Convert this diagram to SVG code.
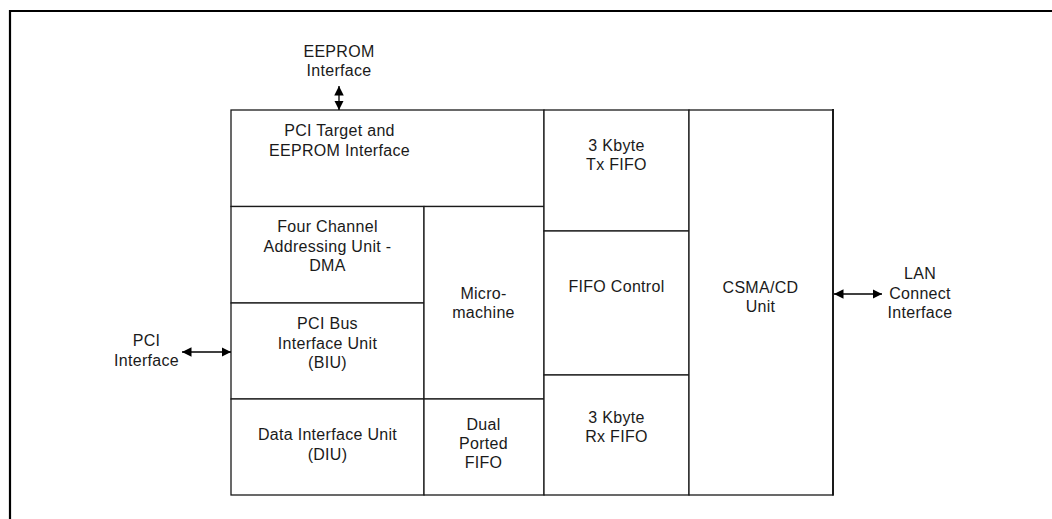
<svg xmlns="http://www.w3.org/2000/svg" width="1052" height="519" viewBox="0 0 1052 519">
<style>
.box{fill:#fff;stroke:#1a1a1a;stroke-width:1.3}
.t{font-family:"Liberation Sans",Arial,sans-serif;font-size:16px;letter-spacing:0.3px;fill:#1a1a1a;text-anchor:middle}
.c{stroke:#000;stroke-width:1.3;fill:none;marker-start:url(#ah);marker-end:url(#ah)}
.frame{stroke:#000;stroke-width:2.2;fill:none}
</style>
<defs>
<marker id="ah" viewBox="0 0 10 10" refX="10" refY="5" markerUnits="userSpaceOnUse" markerWidth="9.5" markerHeight="9.5" orient="auto-start-reverse">
<path d="M0,0 L10,5 L0,10 z" fill="#000"/>
</marker>
</defs>
<rect width="1052" height="519" fill="#fff"/>
<path class="frame" d="M10,519 V11 H1052"/>

<g id="pci-target"><rect class="box" x="231" y="110" width="313" height="96.5"/>
<text class="t" x="339.5" y="136">PCI Target and</text><text class="t" x="339.5" y="155.5">EEPROM Interface</text></g>
<g id="dma"><rect class="box" x="231" y="206.5" width="193" height="96.5"/>
<text class="t" x="327.5" y="231.5">Four Channel</text><text class="t" x="327.5" y="251.5">Addressing Unit -</text><text class="t" x="327.5" y="271">DMA</text></g>
<g id="biu"><rect class="box" x="231" y="303" width="193" height="96"/>
<text class="t" x="327.5" y="329">PCI Bus</text><text class="t" x="327.5" y="348.5">Interface Unit</text><text class="t" x="327.5" y="368">(BIU)</text></g>
<g id="diu"><rect class="box" x="231" y="399" width="193" height="96"/>
<text class="t" x="327.5" y="440">Data Interface Unit</text><text class="t" x="327.5" y="460">(DIU)</text></g>
<g id="micromachine"><rect class="box" x="424" y="206.5" width="120" height="192.5"/>
<text class="t" x="483.5" y="298.5">Micro-</text><text class="t" x="483.5" y="318">machine</text></g>
<g id="dual-fifo"><rect class="box" x="424" y="399" width="120" height="96"/>
<text class="t" x="483.5" y="429.5">Dual</text><text class="t" x="483.5" y="448.5">Ported</text><text class="t" x="483.5" y="468">FIFO</text></g>
<g id="tx-fifo"><rect class="box" x="544" y="110" width="145" height="121"/>
<text class="t" x="616.5" y="150.5">3 Kbyte</text><text class="t" x="616.5" y="170">Tx FIFO</text></g>
<g id="fifo-control"><rect class="box" x="544" y="231" width="145" height="144"/>
<text class="t" x="616.5" y="292">FIFO Control</text></g>
<g id="rx-fifo"><rect class="box" x="544" y="375" width="145" height="120"/>
<text class="t" x="616.5" y="422.5">3 Kbyte</text><text class="t" x="616.5" y="441.5">Rx FIFO</text></g>
<g id="csma"><rect class="box" x="689" y="110" width="144" height="385"/>
<line x1="833" y1="109" x2="833" y2="495.5" stroke="#1a1a1a" stroke-width="2"/>
<text class="t" x="760.5" y="293">CSMA/CD</text><text class="t" x="760.5" y="312">Unit</text></g>

<g id="eeprom-if"><text class="t" x="339" y="57">EEPROM</text><text class="t" x="339" y="76">Interface</text></g>
<g id="pci-if"><text class="t" x="146.5" y="346">PCI</text><text class="t" x="146.5" y="365.5">Interface</text></g>
<g id="lan-if"><text class="t" x="920" y="279">LAN</text><text class="t" x="920" y="298.5">Connect</text><text class="t" x="920" y="318">Interface</text></g>

<g id="connectors">
<line class="c" x1="339" y1="86" x2="339" y2="110"/>
<line class="c" x1="182" y1="352" x2="231" y2="352"/>
<line class="c" x1="834" y1="294" x2="882" y2="294"/>
</g>
</svg>
